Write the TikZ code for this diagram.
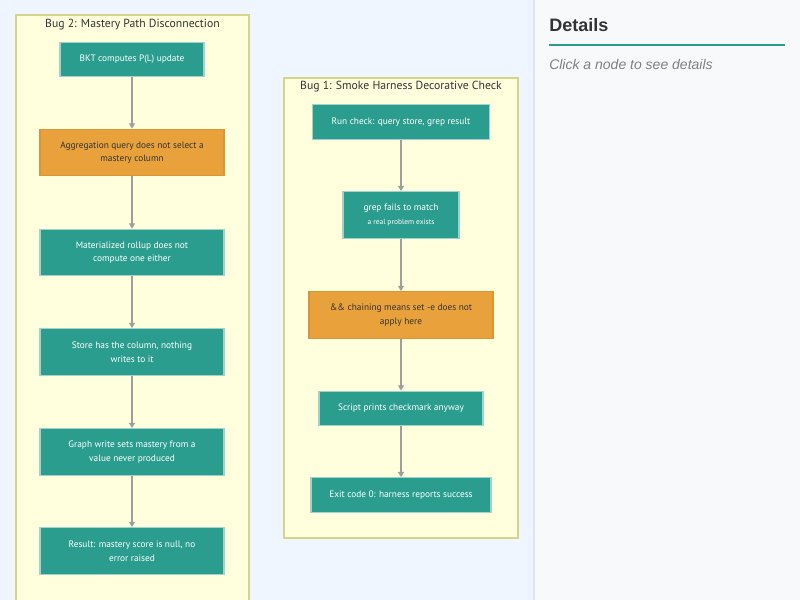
\documentclass[tikz,border=0pt]{standalone}
\usepackage{fontspec}
\setmainfont{PT Sans}
\newfontfamily\panelfont{Liberation Sans}
\usetikzlibrary{arrows.meta}
\definecolor{bgblue}{HTML}{F0F6FF}
\definecolor{panelbg}{HTML}{F8F9FB}
\definecolor{panelline}{HTML}{DDE5EE}
\definecolor{clusterfill}{HTML}{FFFFDE}
\definecolor{clusterline}{HTML}{D4D48C}
\definecolor{teal}{HTML}{2A9D8F}
\definecolor{tealline}{HTML}{9FD3CB}
\definecolor{orange}{HTML}{E9A23B}
\definecolor{orangeline}{HTML}{D8963A}
\definecolor{arrowgray}{HTML}{9E9E9E}
\definecolor{textdark}{HTML}{333333}
\tikzset{
  cluster/.style={draw=clusterline, fill=clusterfill, line width=0.8pt},
  clustertitle/.style={font=\fontsize{8.8}{11}\selectfont, text=textdark, inner sep=0},
  tealbox/.style={draw=tealline, fill=teal, line width=0.8pt, text=white, inner sep=0,
    align=center, font=\fontsize{7}{10.2}\selectfont},
  orangebox/.style={draw=orangeline, fill=orange, line width=0.8pt, text=textdark, inner sep=0,
    align=center, font=\fontsize{7}{10.2}\selectfont},
  flow/.style={draw=arrowgray, line width=1.1pt, -{Triangle[length=4pt,width=4.5pt]}},
}
\begin{document}
\begin{tikzpicture}[x=0.75pt,y=-0.75pt]
\useasboundingbox (0,0) rectangle (800,600);
\clip (0,0) rectangle (800,600);
% backgrounds
\fill[bgblue] (0,0) rectangle (534,600);
\fill[panelbg] (534,0) rectangle (800,600);
\draw[panelline, line width=0.8pt] (534,0) -- (534,600);
% clusters
\draw[cluster] (16,15) rectangle (249,610);
\node[clustertitle] (t2) at (132.5,24.5) {Bug 2: Mastery Path Disconnection};
\draw[cluster] (284,78) rectangle (518,538);
\node[clustertitle] (t1) at (401,86.5) {Bug 1: Smoke Harness Decorative Check};
% Bug 2 nodes
\node[tealbox, minimum width=108pt, minimum height=25.5pt] (b1) at (132,59.5) {BKT computes P(L) update};
\node[orangebox, minimum width=138pt, minimum height=35pt] (b2) at (132,152.5) {Aggregation query does not select a\\mastery column};
\node[tealbox, minimum width=138pt, minimum height=35pt] (b3) at (132,252.5) {Materialized rollup does not\\compute one either};
\node[tealbox, minimum width=138pt, minimum height=35pt] (b4) at (132,352) {Store has the column, nothing\\writes to it};
\node[tealbox, minimum width=138pt, minimum height=35pt] (b5) at (132,452) {Graph write sets mastery from a\\value never produced};
\node[tealbox, minimum width=138pt, minimum height=35pt] (b6) at (132,551) {Result: mastery score is null, no\\error raised};
% Bug 1 nodes
\node[tealbox, minimum width=132.75pt, minimum height=26pt] (a1) at (401,122) {Run check: query store, grep result};
\node[tealbox, minimum width=87pt, minimum height=35pt] (a2) at (401,215) {grep fails to match\\{\fontsize{5.6}{8}\selectfont a real problem exists}};
\node[orangebox, minimum width=138pt, minimum height=35pt] (a3) at (401,315) {\&\& chaining means set -e does not\\apply here};
\node[tealbox, minimum width=123pt, minimum height=26pt] (a4) at (401,408.5) {Script prints checkmark anyway};
\node[tealbox, minimum width=135pt, minimum height=26pt] (a5) at (401,495) {Exit code 0: harness reports success};
% connectors
\draw[flow] (b1) -- (b2);
\draw[flow] (b2) -- (b3);
\draw[flow] (b3) -- (b4);
\draw[flow] (b4) -- (b5);
\draw[flow] (b5) -- (b6);
\draw[flow] (a1) -- (a2);
\draw[flow] (a2) -- (a3);
\draw[flow] (a3) -- (a4);
\draw[flow] (a4) -- (a5);
% details panel
\node[anchor=base west, inner sep=0, font=\panelfont\bfseries\fontsize{13.5}{16}\selectfont, text=textdark] (dt) at (549,31) {Details};
\coordinate (ul) at (549,44.5);
\coordinate (ur) at (785,44.5);
\draw[teal, line width=1.5pt] (ul) -- (ur);
\node[anchor=base west, inner sep=0, font=\panelfont\itshape\fontsize{10.5}{12}\selectfont, text=black!50] (dh) at (549,69) {Click a node to see details};
\end{tikzpicture}
\end{document}
